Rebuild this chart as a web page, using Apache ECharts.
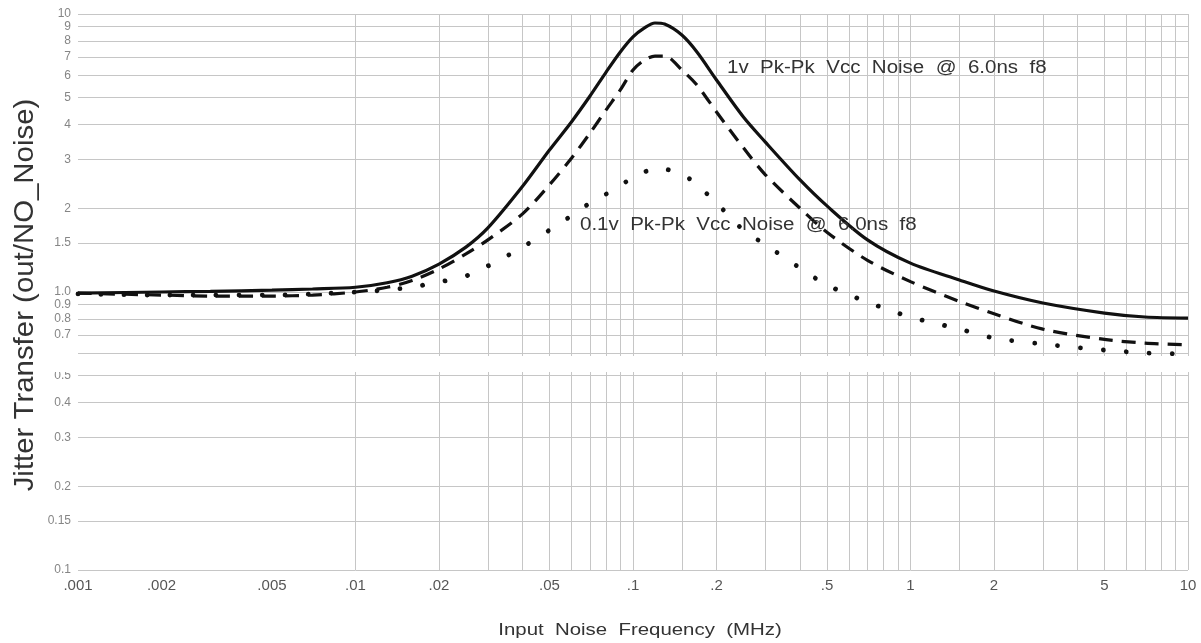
<!DOCTYPE html>
<html>
<head>
<meta charset="utf-8">
<script src="https://cdn.jsdelivr.net/npm/echarts@6/dist/echarts.min.js"></script>
<style>
html,body{margin:0;padding:0;background:#fff;}
#chart{width:1201px;height:643px;}
</style>
</head>
<body>
<div id="chart"></div>
<script>
// ---- data (frequency in MHz, jitter transfer ratio) ----
const freq = [0.001,0.002,0.003,0.005,0.007,0.01,0.013,0.016,0.02,0.025,0.03,0.04,0.05,0.06,0.07,0.08,0.09,0.1,0.11,0.12,0.13,0.15,0.17,0.2,0.25,0.3,0.4,0.5,0.7,1,1.5,2,3,5,7,10];
const solid1v = [0.99,1.0,1.005,1.015,1.025,1.04,1.08,1.14,1.26,1.45,1.70,2.40,3.24,4.09,5.07,6.18,7.30,8.27,8.91,9.28,9.2,8.4,7.3,5.79,4.26,3.46,2.53,2.04,1.54,1.27,1.105,1.008,0.913,0.84,0.813,0.806];
const dashedMid = [0.99,0.975,0.967,0.967,0.975,1.0,1.04,1.1,1.21,1.37,1.54,1.91,2.43,3.03,3.73,4.52,5.33,6.29,6.83,7.06,7.06,6.29,5.55,4.44,3.30,2.64,2.0,1.64,1.30,1.09,0.925,0.835,0.735,0.675,0.655,0.645];
const dotted01v = [0.984,0.975,0.975,0.975,0.984,1.0,1.017,1.042,1.086,1.142,1.24,1.45,1.67,1.88,2.09,2.25,2.41,2.59,2.70,2.79,2.77,2.66,2.43,2.09,1.67,1.48,1.22,1.06,0.92,0.813,0.736,0.683,0.65,0.618,0.604,0.598];

const xTickValues = [0.001,0.002,0.005,0.01,0.02,0.05,0.1,0.2,0.5,1,2,5,10];
const xTickLabels = ['.001','.002','.005','.01','.02','.05','.1','.2','.5','1','2','5','10'];
const yTickValues = [10,9,8,7,6,5,4,3,2,1.5,1.0,0.9,0.8,0.7,0.5,0.4,0.3,0.2,0.15,0.1];
const yTickLabels = ['10','9','8','7','6','5','4','3','2','1.5','1.0','0.9','0.8','0.7','0.5','0.4','0.3','0.2','0.15','0.1'];

const xGridDecades = [0.001,0.01,0.1,1];
const xGridMultipliers = [1,1.5,2,3,4,5,6,7,8,9];
const yGridValues = [0.1,0.15,0.2,0.3,0.4,0.5,0.6,0.7,0.8,0.9,1,1.5,2,3,4,5,6,7,8,9,10];

const seriesNames = ['1v Pk-Pk Vcc Noise @ 6.0ns f8','Mid Vcc Noise','0.1v Pk-Pk Vcc Noise @ 6.0ns f8'];
const xAxisTitle = 'Input  Noise  Frequency  (MHz)';
const yAxisTitle = 'Jitter Transfer (out/NO_Noise)';

// ---- build ----
const FONT = '"Liberation Sans", Arial, sans-serif';
const xGridValues = [];
xGridDecades.forEach(d => xGridMultipliers.forEach(m => xGridValues.push(+(d*m).toPrecision(3))));
xGridValues.push(10);

const gridMarkData = [];
xGridValues.forEach(v => gridMarkData.push({xAxis: v}));
yGridValues.forEach(v => gridMarkData.push({yAxis: v}));

const pair = arr => freq.map((f,i) => [f, arr[i]]);

const chart = echarts.init(document.getElementById('chart'));
chart.setOption({
  backgroundColor: '#ffffff',
  animation: false,
  grid: {left: 78, right: 13, top: 14, bottom: 73},
  xAxis: {type: 'log', logBase: 10, min: 0.001, max: 10,
    axisLine: {show: false}, axisTick: {show: false}, axisLabel: {show: false}, splitLine: {show: false}},
  yAxis: {type: 'log', logBase: 10, min: 0.1, max: 10,
    axisLine: {show: false}, axisTick: {show: false}, axisLabel: {show: false}, splitLine: {show: false}},
  series: [
    {
      name: 'xticks', type: 'scatter', z: 1, silent: true, clip: false,
      symbolSize: 0,
      data: xTickValues.map(v => [v, 0.1]),
      label: {show: true, position: 'bottom', distance: 8, color: '#2a2a2a', fontSize: 15, fontFamily: FONT,
        formatter: p => xTickLabels[p.dataIndex]},
      markLine: {
        silent: true, symbol: ['none','none'], animation: false,
        label: {show: false},
        lineStyle: {type: 'solid', color: '#c6c6c6', width: 1},
        emphasis: {disabled: true},
        data: gridMarkData
      }
    },
    {
      name: 'yticks', type: 'scatter', z: 1, silent: true, clip: false,
      symbolSize: 0,
      data: yTickValues.map(v => [0.001, v]),
      label: {show: true, position: 'left', distance: 7, color: '#666', fontSize: 12, fontFamily: FONT,
        formatter: p => yTickLabels[p.dataIndex]}
    },
    {
      name: seriesNames[0], type: 'line', z: 5, data: pair(solid1v), showSymbol: false, smooth: 0.3,
      lineStyle: {color: '#111', width: 3.2}
    },
    {
      name: seriesNames[1], type: 'line', z: 5, data: pair(dashedMid), showSymbol: false, smooth: 0.3,
      lineStyle: {color: '#111', width: 3.2, type: [14, 9]}
    },
    {
      name: seriesNames[2], type: 'line', z: 5, data: pair(dotted01v), showSymbol: false, smooth: 0.3,
      lineStyle: {color: '#111', width: 4.8, type: [0.01, 23], cap: 'round'}
    }
  ],
  graphic: [
    {type: 'rect', z: 50, shape: {x: 0, y: 356, width: 1201, height: 16}, style: {fill: '#ffffff'}},
    {type: 'text', z: 60, x: 25, y: 295, rotation: Math.PI/2, scaleX: 1.05,
      style: {text: yAxisTitle, font: '28px ' + FONT, fill: '#333', textAlign: 'center', textVerticalAlign: 'middle'}},
    {type: 'text', z: 60, x: 640, y: 630, scaleX: 1.2,
      style: {text: xAxisTitle, font: '17px ' + FONT, fill: '#333', textAlign: 'center', textVerticalAlign: 'middle'}},
    {type: 'text', z: 60, x: 727, y: 68, scaleX: 1.14,
      style: {text: '1v  Pk-Pk  Vcc  Noise  @  6.0ns  f8', font: '18px ' + FONT, fill: '#333', textAlign: 'left', textVerticalAlign: 'middle'}},
    {type: 'text', z: 60, x: 580, y: 225, scaleX: 1.14,
      style: {text: '0.1v  Pk-Pk  Vcc  Noise  @  6.0ns  f8', font: '18px ' + FONT, fill: '#333', textAlign: 'left', textVerticalAlign: 'middle'}}
  ]
});
</script>
</body>
</html>
